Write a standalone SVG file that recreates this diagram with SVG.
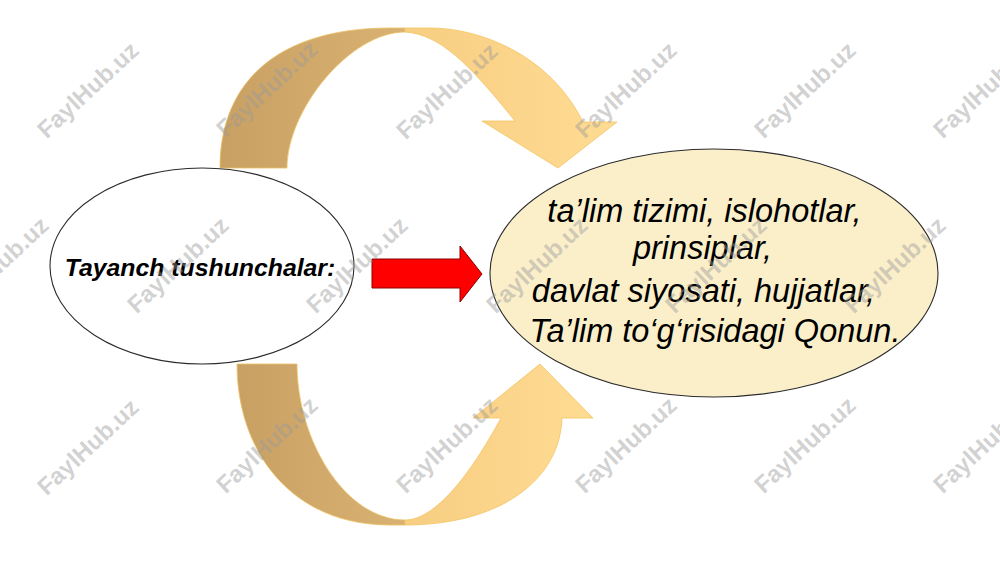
<svg xmlns="http://www.w3.org/2000/svg" width="1000" height="562" viewBox="0 0 1000 562">
  <defs>
    <linearGradient id="gDark" x1="0" y1="0" x2="1" y2="0">
      <stop offset="0" stop-color="#C9A063"/>
      <stop offset="1" stop-color="#D9B273"/>
    </linearGradient>
    <linearGradient id="gLight" x1="0" y1="0" x2="1" y2="0">
      <stop offset="0" stop-color="#F7CE82"/>
      <stop offset="1" stop-color="#FFDB93"/>
    </linearGradient>
    <style>
      .dark { fill: url(#gDark); stroke: #EBC062; stroke-width: 0.8; }
      .light { fill: url(#gLight); stroke: #F2C45E; stroke-width: 0.8; }
      .node { stroke: #2b2b2b; stroke-width: 1.1; }
      .lbl { font-family: "Liberation Sans", Arial, sans-serif; font-style: italic; fill: #000; }
      .wm { font-family: "Liberation Sans", Arial, sans-serif; font-weight: bold; font-size: 24px; fill: #9a9a9a; fill-opacity: 0.45; text-anchor: middle; }
    </style>
  </defs>
  <rect width="1000" height="562" fill="#ffffff"/>

  <g id="connectors">
    <!-- top curved arrow -->
    <path class="dark" d="M220,168 C220,80 280,28 390,28 L405,28 L405,32 C350,32 287,110 287,168 Z"/>
    <path class="light" d="M405,28 L430,28 C480,28 550,55 583,122 L617,122 L558,168 L482,121 L515,121 C470,65 440,34 405,32 Z"/>
    <!-- bottom curved arrow -->
    <path class="dark" d="M237,364 C237,450 290,525 390,525 L405,525 L405,520 C345,520 297,440 297,364 Z"/>
    <path class="light" d="M405,525 C500,525 560,480 562,418 L593,418 L540,364 L473,418 L501,418 C470,475 435,520 405,520 Z"/>
    <!-- red arrow -->
    <path d="M372,259 L460,259 L460,246 L482,274 L460,302 L460,288 L372,288 Z" fill="#FF0000" stroke="#8B0000" stroke-width="1"/>
  </g>

  <g id="node-left">
    <ellipse class="node" cx="202" cy="266" rx="152" ry="98" fill="#ffffff"/>
    <text class="lbl" x="200" y="276" font-size="24.8" font-weight="bold" text-anchor="middle">Tayanch tushunchalar:</text>
  </g>

  <g id="node-right">
    <ellipse class="node" cx="714" cy="273" rx="224" ry="124" fill="#FBEFCA"/>
    <text class="lbl" font-size="32.5" text-anchor="middle">
      <tspan x="709" y="222">ta’lim tizimi, islohotlar,</tspan>
      <tspan x="707" y="259">prinsiplar,</tspan>
      <tspan x="708" y="302">davlat siyosati, hujjatlar,</tspan>
      <tspan x="715" y="342">Ta’lim to‘g‘risidagi Qonun.</tspan>
    </text>
  </g>

  <g id="watermarks">
    <text class="wm" x="88" y="98" transform="rotate(-43 88 90)">FaylHub.uz</text>
    <text class="wm" x="267" y="97" transform="rotate(-43 267 89)">FaylHub.uz</text>
    <text class="wm" x="447" y="99" transform="rotate(-43 447 91)">FaylHub.uz</text>
    <text class="wm" x="626" y="98" transform="rotate(-43 626 90)">FaylHub.uz</text>
    <text class="wm" x="805" y="98" transform="rotate(-43 805 90)">FaylHub.uz</text>
    <text class="wm" x="984" y="98" transform="rotate(-43 984 90)">FaylHub.uz</text>
    <text class="wm" x="-2" y="273" transform="rotate(-43 -2 265)">FaylHub.uz</text>
    <text class="wm" x="178" y="273" transform="rotate(-43 178 265)">FaylHub.uz</text>
    <text class="wm" x="357" y="273" transform="rotate(-43 357 265)">FaylHub.uz</text>
    <text class="wm" x="537" y="273" transform="rotate(-43 537 265)">FaylHub.uz</text>
    <text class="wm" x="716" y="273" transform="rotate(-43 716 265)">FaylHub.uz</text>
    <text class="wm" x="895" y="273" transform="rotate(-43 895 265)">FaylHub.uz</text>
    <text class="wm" x="88" y="455" transform="rotate(-43 88 447)">FaylHub.uz</text>
    <text class="wm" x="267" y="453" transform="rotate(-43 267 445)">FaylHub.uz</text>
    <text class="wm" x="447" y="453" transform="rotate(-43 447 445)">FaylHub.uz</text>
    <text class="wm" x="626" y="453" transform="rotate(-43 626 445)">FaylHub.uz</text>
    <text class="wm" x="805" y="453" transform="rotate(-43 805 445)">FaylHub.uz</text>
    <text class="wm" x="984" y="453" transform="rotate(-43 984 445)">FaylHub.uz</text>
  </g>
</svg>
